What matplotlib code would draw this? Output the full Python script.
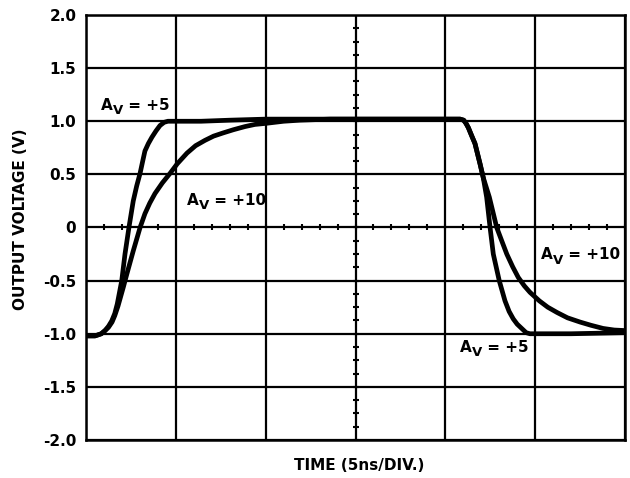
import matplotlib
matplotlib.use('Agg')
import matplotlib.pyplot as plt
import numpy as np

plt.rcParams['font.family'] = ['DejaVu Sans']
plt.rcParams['font.weight'] = 'bold'

# ---- data (time in ns, 5 ns/div; voltage in V) ----
av5_t = [0.0, 0.5, 0.68, 0.85, 1.06, 1.25, 1.43, 1.6, 1.74, 1.99, 2.17, 2.39, 2.63, 2.82, 3.01, 3.15,
         3.28, 3.47, 3.67, 3.9, 4.12, 4.35, 4.56, 5.5, 6.4, 8.0, 10.0, 15.0, 20.82, 21.02, 21.15,
         21.28, 21.45, 21.65, 21.93, 22.11, 22.30, 22.49, 22.67, 23.00, 23.32, 23.55, 23.78, 24.0,
         24.25, 24.5, 24.71, 27.0, 30.0]
av5_v = [-1.02, -1.02, -1.01, -1.0, -0.97, -0.93, -0.88, -0.81, -0.72, -0.50, -0.25, 0.00, 0.25, 0.39, 0.51, 0.62,
         0.72, 0.79, 0.85, 0.91, 0.96, 0.99, 1.00, 1.00, 1.00, 1.01, 1.02, 1.02, 1.02, 1.01, 0.98,
         0.94, 0.87, 0.79, 0.60, 0.47, 0.285, 0.00, -0.25, -0.50, -0.69, -0.79, -0.86, -0.91,
         -0.95, -0.99, -1.00, -1.00, -0.99]

av10_t = [0.0, 0.5, 0.68, 0.85, 1.06, 1.25, 1.45, 1.6, 1.78, 2.08, 2.27, 2.63, 3.01, 3.28, 3.55, 3.84,
          4.25, 4.68, 5.08, 5.62, 6.1, 6.62, 7.1, 7.63, 8.2, 8.85, 9.4, 10.0, 11.0, 11.9, 13.6,
          20.82, 21.02, 21.15, 21.28, 21.45, 21.65, 21.93, 22.11, 22.45, 22.86, 23.15, 23.42, 23.75,
          24.06, 24.4, 24.71, 25.23, 25.7, 26.22, 26.8, 27.50, 28.1, 28.78, 29.4, 30.0]
av10_v = [-1.02, -1.02, -1.01, -1.0, -0.97, -0.94, -0.89, -0.83, -0.74, -0.56, -0.44, -0.22, 0.00, 0.13, 0.23, 0.32,
          0.42, 0.51, 0.60, 0.70, 0.77, 0.82, 0.86, 0.89, 0.92, 0.95, 0.97, 0.98, 1.0, 1.01, 1.02,
          1.02, 1.01, 0.98, 0.94, 0.87, 0.79, 0.60, 0.47, 0.285, 0.00, -0.13, -0.25, -0.37,
          -0.47, -0.55, -0.61, -0.69, -0.75, -0.80, -0.85, -0.89, -0.92, -0.95, -0.965, -0.97]

y_ticks = [-2.0, -1.5, -1.0, -0.5, 0.0, 0.5, 1.0, 1.5, 2.0]
y_labels = ['-2.0', '-1.5', '-1.0', '-0.5', '0', '0.5', '1.0', '1.5', '2.0']
x_divs = [0, 5, 10, 15, 20, 25, 30]

labels = [  # (t, v, gain text)
    (0.82, 1.11, '+5'),
    (5.60, 0.216, '+10'),
    (25.31, -0.30, '+10'),
    (20.82, -1.17, '+5'),
]

# ---- figure ----
fig = plt.figure(figsize=(6.3, 4.78), dpi=100)
ax = fig.add_axes([86 / 630, 1 - 440 / 478, 539 / 630, 425 / 478])
ax.set_xlim(0, 30)
ax.set_ylim(-2, 2)
ax.set_xticks(x_divs)
ax.set_xticklabels([])
ax.set_yticks(y_ticks)
ax.set_yticklabels(y_labels)
ax.tick_params(length=0, pad=7, labelsize=11)
for lab in ax.get_yticklabels():
    lab.set_fontweight('bold')
ax.grid(True, color='black', lw=1.6)
ax.set_axisbelow(True)
for s in ax.spines.values():
    s.set_linewidth(1.8)
    s.set_color('black')

# minor ticks on the centre axes
xm = np.arange(0, 30.01, 1.0)
ax.plot(xm, np.zeros_like(xm), ls='none', marker='|', ms=4.6, mew=1.5, color='black', zorder=2)
ym = np.arange(-2, 2.001, 0.125)
ax.plot(np.full_like(ym, 15.0), ym, ls='none', marker='_', ms=4.6, mew=1.5, color='black', zorder=2)

ax.plot(av10_t, av10_v, color='black', lw=3.4, solid_joinstyle='round', zorder=3)
ax.plot(av5_t, av5_v, color='black', lw=3.4, solid_joinstyle='round', zorder=3)


def av_label(x, y, gain):
    a = ax.text(x, y, 'A', fontsize=11, fontweight='bold', va='baseline', ha='left', zorder=4)
    v = ax.annotate('V', xy=(1, 0), xycoords=a, xytext=(0.3, -3.2), textcoords='offset points',
                    fontsize=9.5, fontweight='bold', va='bottom', ha='left', zorder=4)
    ax.annotate(' = ' + gain, xy=(1, 0), xycoords=v, xytext=(0, 3.2), textcoords='offset points',
                fontsize=11, fontweight='bold', va='bottom', ha='left', zorder=4)


for (lt, lv, g) in labels:
    av_label(lt, lv, g)

fig.text(359 / 630, 1 - 465 / 478, 'TIME (5ns/DIV.)', fontsize=11, fontweight='bold',
         ha='center', va='center')
fig.text(21 / 630, 1 - 219 / 478, 'OUTPUT VOLTAGE (V)', fontsize=11, fontweight='bold',
         ha='center', va='center', rotation=90)

fig.savefig('out.png', dpi=100)
